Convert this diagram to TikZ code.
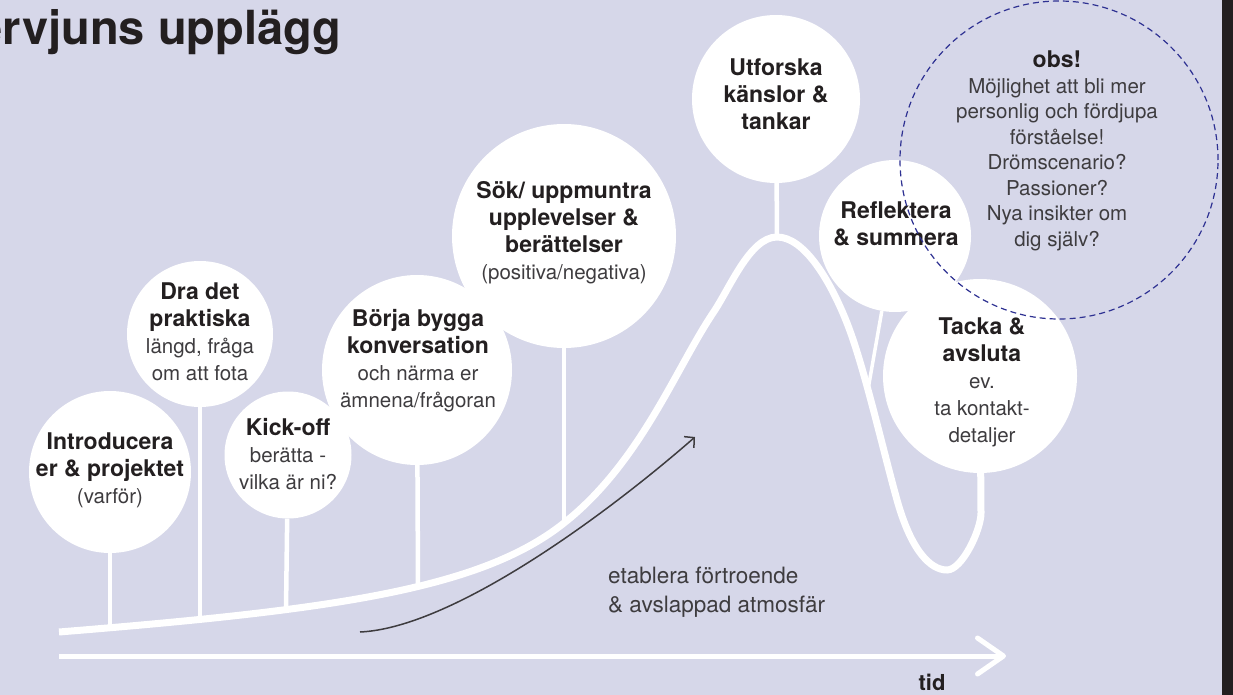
\documentclass[tikz,border=0pt]{standalone}
\usepackage{fontspec}
\setmainfont{TeX Gyre Heros}
\usetikzlibrary{arrows.meta}
\definecolor{bakgrund}{RGB}{214,215,233}
\definecolor{mork}{RGB}{35,31,32}
\definecolor{gra}{RGB}{62,60,63}
\definecolor{streck}{RGB}{46,49,146}
\newcommand{\fet}[1]{{\fontsize{23}{27}\selectfont\bfseries\color{mork}#1}}
\tikzset{
  bubble/.style={circle, fill=white, inner sep=0pt},
  lbl/.style={align=center, text=gra, inner sep=0pt, font=\fontsize{20.5}{27}\selectfont},
  stick/.style={draw=white, line width=4.5pt},
  kurva/.style={draw=white, line width=7pt},
  axel/.style={draw=white, line width=5pt, -{Straight Barb[length=26pt,width=36pt,round]}},
  pil/.style={draw=gra, line width=1.5pt, -{Straight Barb[length=7pt,width=15pt]}},
}
\begin{document}
\begin{tikzpicture}[x=1pt, y=-1pt]
  \useasboundingbox (0,0) rectangle (1233,695);
  \fill[bakgrund] (0,0) rectangle (1233,695);
  \fill[mork] (1222,0) rectangle (1233,695);
  % Rubrik (avskuren till vänster)
  \node[anchor=base east, inner sep=0pt, text=mork,
    font=\fontsize{47}{50}\selectfont\bfseries] (rubrik) at (341,45) {ervjuns upplägg};
  % Bubblorna
  \node[bubble, minimum size=162pt] (intro) at (110,472) {};
  \node[bubble, minimum size=146pt] (dra) at (200,334) {};
  \node[bubble, minimum size=127pt] (kick) at (288,455) {};
  \node[bubble, minimum size=190pt] (borja) at (417,370) {};
  \node[bubble, minimum size=224pt] (sok) at (564,236) {};
  \node[bubble, minimum size=168pt] (utf) at (776,99) {};
  \node[bubble, minimum size=152pt] (refl) at (895,236) {};
  \node[bubble, minimum size=194pt] (tacka) at (980,376) {};
  % Punkter på kurvan
  \coordinate (start) at (59,632);
  \coordinate (fot1) at (110,627);
  \coordinate (fot2) at (200,618);
  \coordinate (fot3) at (286,609.5);
  \coordinate (fot4) at (418,586.5);
  \coordinate (fot5) at (564,523);
  \coordinate (topp) at (777,237);
  \coordinate (fot7) at (868,389.5);
  % Kurvan
  \draw[kurva] (start) .. controls (330,610) and (480,590) .. (fot5)
    .. controls (640,463) and (675,370) .. (713,313)
    .. controls (730,288) and (750,237) .. (topp)
    .. controls (804,237) and (830,280) .. (847,323)
    .. controls (864,366) and (883,450) .. (897,500)
    .. controls (911,550) and (930,570) .. (947,570)
    .. controls (962,570) and (981,530) .. (981,513)
    -- (tacka);
  % Pinnarna
  \draw[stick] (intro) -- (fot1);
  \draw[stick] (dra) -- (fot2);
  \draw[stick] (kick) -- (fot3);
  \draw[stick] (borja) -- (fot4);
  \draw[stick] (sok) -- (fot5);
  \draw[stick] (utf) -- (topp);
  \draw[stick, line width=3.5pt] (refl) -- (fot7);
  % Texterna
  \node[lbl] (introtxt) at (110,470) {\fet{Introducera}\\ \fet{er \& projektet}\\ (varför)};
  \node[lbl] (dratxt) at (200,332) {\fet{Dra det}\\ \fet{praktiska}\\ längd, fråga\\ om att fota};
  \node[lbl] (kicktxt) at (288,454) {\fet{Kick-off}\\ berätta -\\ vilka är ni?};
  \node[lbl] (borjatxt) at (418,361) {\fet{Börja bygga}\\ \fet{konversation}\\ och närma er\\ ämnena/frågoran};
  \node[lbl] (soktxt) at (564,233) {\fet{Sök/ uppmuntra}\\ \fet{upplevelser \&}\\ \fet{berättelser}\\ (positiva/negativa)};
  \node[lbl] (utftxt) at (776,94) {\fet{Utforska}\\ \fet{känslor \&}\\ \fet{tankar}};
  \node[lbl] (refltxt) at (896,224) {\fet{Reflektera}\\ \fet{\& summera}};
  \node[lbl] (tackatxt) at (982,382) {\fet{Tacka \&}\\ \fet{avsluta}\\ ev.\\ ta kontakt-\\ detaljer};
  % Streckad ring med obs
  \node[circle, draw=streck, line width=1.2pt, dash pattern=on 6pt off 4pt,
    minimum size=318pt, inner sep=0pt] (obsring) at (1059,160) {};
  \node[lbl, font=\fontsize{20.5}{25.5}\selectfont] (obs) at (1057,151)
    {\fet{obs!}\\ Möjlighet att bli mer\\ personlig och fördjupa\\ förståelse!\\ Drömscenario?\\ Passioner?\\ Nya insikter om\\ dig själv?};
  % Förtroende-pilen
  \coordinate (tstart) at (360,632);
  \coordinate (tslut) at (695,437);
  \draw[pil] (tstart) .. controls (450,628) and (600,520) .. (tslut);
  \node[lbl, align=left, anchor=west, font=\fontsize{22.5}{29}\selectfont] (trygg) at (608,592)
    {etablera förtroende\\ \& avslappad atmosfär};
  % Tidsaxeln
  \coordinate (axstart) at (59,656);
  \coordinate (axslut) at (1006,656);
  \draw[axel] (axstart) -- (axslut);
  \node[inner sep=0pt, text=mork, font=\fontsize{22}{24}\selectfont\bfseries] (tid) at (932,682) {tid};
\end{tikzpicture}
\end{document}
